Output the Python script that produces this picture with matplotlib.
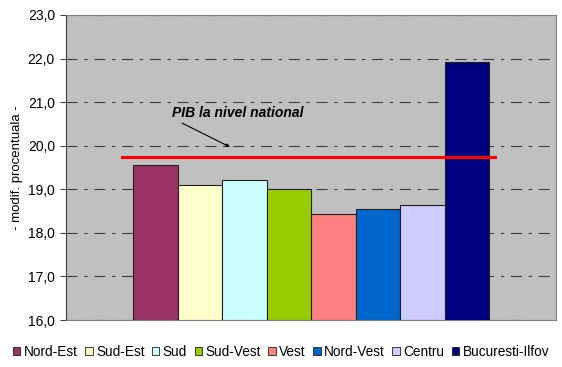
import matplotlib
matplotlib.use("Agg")
import matplotlib.pyplot as plt
from matplotlib.patches import Patch

plt.rcParams['font.family'] = ['Liberation Sans', 'DejaVu Sans']

regions = ["Nord-Est", "Sud-Est", "Sud", "Sud-Vest", "Vest", "Nord-Vest", "Centru", "Bucuresti-Ilfov"]
values = [19.55, 19.1, 19.22, 19.0, 18.44, 18.54, 18.65, 21.92]
colors = ["#993366", "#FFFFCC", "#CCFFFF", "#99CC00", "#FF8080", "#0066CC", "#CCCCFF", "#000080"]
national = 19.75
yticks = [16, 17, 18, 19, 20, 21, 22, 23]

fig = plt.figure(figsize=(5.62, 3.67), dpi=100)
ax = fig.add_axes([66/562, 1 - 320/367, 490/562, 305/367])
ax.set_facecolor("#C0C0C0")

bw = 44.5
x0 = 67 + bw / 2
for i, (v, c) in enumerate(zip(values, colors)):
    ax.bar(x0 + i * bw, v - 16, bottom=16, width=bw, color=c, edgecolor="#202020", linewidth=0.8, zorder=3)

ax.set_xlim(0, 490)
ax.set_ylim(16, 23)
ax.set_yticks(yticks)
ax.set_yticklabels([f"{t:.1f}".replace(".", ",") for t in yticks], fontsize=10)
ax.set_xticks([])
ax.yaxis.grid(True, color="#404040", linewidth=0.8, linestyle=(0, (10, 6, 3, 6)), zorder=1)
for s in ax.spines.values():
    s.set_color("#808080")
    s.set_linewidth(0.8)
ax.spines['left'].set_color("#404040")
ax.tick_params(axis='y', length=4, width=0.8, color="#404040", pad=4)

ax.plot([56, 429], [national, national], color="#FF0000", linewidth=2.2, zorder=4)
ax.text(106, 20.75, "PIB la nivel national", fontsize=10, fontweight="bold",
        fontstyle="italic", ha="left", va="center", zorder=5)
ax.annotate("", xy=(164, 19.97), xytext=(116, 20.52),
            arrowprops=dict(arrowstyle="-|>", color="black", lw=0.8, mutation_scale=5,
                            shrinkA=0, shrinkB=0), zorder=5)

ax.set_ylabel("- modif. procentuala -", fontsize=9.5, labelpad=3)

handles = [Patch(facecolor=c, edgecolor="#202020", linewidth=0.6) for c in colors]
fig.legend(handles, regions, loc="center", bbox_to_anchor=(0.5, 1 - 352/367), ncol=8,
           frameon=False, fontsize=9.8, handlelength=0.55, handleheight=0.55,
           handletextpad=0.25, columnspacing=0.55, borderaxespad=0)

fig.savefig("out.png", dpi=100)
